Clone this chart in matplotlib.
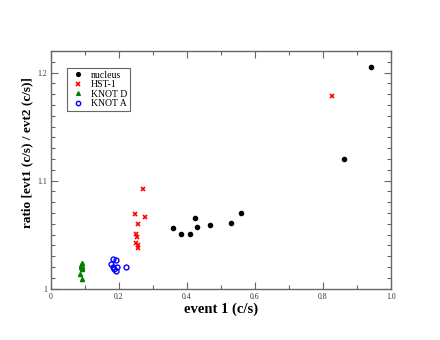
import matplotlib
matplotlib.use('Agg')
import matplotlib.pyplot as plt
from matplotlib.ticker import MultipleLocator

plt.rcParams['font.family'] = ['Liberation Serif', 'DejaVu Serif']

# nucleus
nuc_x = [0.942, 0.863, 0.560, 0.530, 0.467, 0.430, 0.423, 0.409, 0.383, 0.360]
nuc_y = [1.2055, 1.1197, 1.0698, 1.0609, 1.0588, 1.0569, 1.0658, 1.0508, 1.0508, 1.0557]

# HST-1
hst_x = [0.826, 0.272, 0.247, 0.278, 0.257, 0.250, 0.252, 0.250, 0.255, 0.255]
hst_y = [1.1788, 1.0927, 1.069, 1.066, 1.060, 1.0505, 1.048, 1.042, 1.040, 1.0375]

# KNOT D
kd_x = [0.090, 0.089, 0.091, 0.089, 0.090, 0.091, 0.085, 0.092]
kd_y = [1.024, 1.022, 1.021, 1.020, 1.019, 1.018, 1.0134, 1.0092]

# KNOT A
ka_x = [0.181, 0.191, 0.177, 0.183, 0.185, 0.193, 0.191, 0.221]
ka_y = [1.0277, 1.0268, 1.0228, 1.0197, 1.0185, 1.0197, 1.016, 1.020]

fig = plt.figure(figsize=(4.4, 3.4), dpi=100)
ax = fig.add_axes([0.116, 0.151, 0.772, 0.699])

ax.plot(nuc_x, nuc_y, 'o', color='black', markersize=3, linestyle='none', label='nucleus')
ax.plot(hst_x, hst_y, 'x', color='red', markersize=3, markeredgewidth=1.2, linestyle='none', label='HST-1')
ax.plot(kd_x, kd_y, '^', color='green', markersize=3, linestyle='none', label='KNOT D')
ax.plot(ka_x, ka_y, 'o', color='blue', markerfacecolor='none', markersize=3.5,
        markeredgewidth=1, linestyle='none', label='KNOT A')

ax.set_xlim(0, 1.0)
ax.set_ylim(1.0, 1.22)
ax.xaxis.set_minor_locator(MultipleLocator(0.1))
ax.yaxis.set_minor_locator(MultipleLocator(0.01))
ax.set_xticks([0, 0.2, 0.4, 0.6, 0.8, 1.0])
ax.set_xticklabels(['0', '0.2', '0.4', '0.6', '0.8', '1.0'])
ax.set_yticks([1.0, 1.1, 1.2])
ax.set_yticklabels(['1', '1.1', '1.2'])

ax.tick_params(which='both', direction='in', top=True, right=True, colors='#666666',
               labelsize=5.6, labelcolor='#333333', pad=3)
ax.tick_params(which='major', length=5, width=0.8)
ax.tick_params(which='minor', length=3, width=0.8)
for s in ax.spines.values():
    s.set_color('#666666')
    s.set_linewidth(1)

ax.set_xlabel('event 1 (c/s)', fontsize=10.5, fontweight='bold', labelpad=1)
ax.set_ylabel('ratio [evt1 (c/s) / evt2 (c/s)]', fontsize=9.5, fontweight='bold')
ax.yaxis.set_label_coords(-0.053, 0.571)

leg = ax.legend(loc='upper left', bbox_to_anchor=(0.048, 0.93), borderaxespad=0, fontsize=7,
                fancybox=False, edgecolor='#666666', framealpha=1, handlelength=1.6,
                handletextpad=0.55, borderpad=0.3, labelspacing=0.05, numpoints=1,
                markerscale=0.9)
leg.get_frame().set_linewidth(0.8)

fig.savefig('out.png', dpi=100)
